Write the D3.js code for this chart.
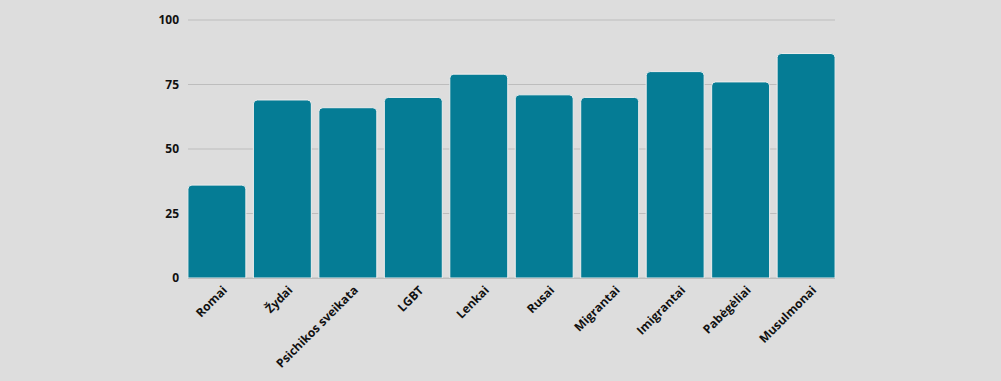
<!DOCTYPE html>
<html lang="lt">
<head>
<meta charset="UTF-8">
<script src="https://d3js.org/d3.v7.min.js"></script>
<style>
  html, body { margin: 0; padding: 0; background: #dddddd; }
  svg { display: block; font-family: "Open Sans", "Noto Sans", sans-serif; }
</style>
</head>
<body>
<svg id="chart" width="1001" height="381"></svg>
<script>
const categories = ["Romai", "Žydai", "Psichikos sveikata", "LGBT", "Lenkai", "Rusai", "Migrantai", "Imigrantai", "Pabėgėliai", "Musulmonai"];
const values = [36, 69, 66, 70, 79, 71, 70, 80, 76, 87];
const yTicks = [0, 25, 50, 75, 100];

const svg = d3.select("#chart");

const x = d3.scaleBand()
  .domain(categories)
  .range([184, 839])
  .paddingInner(0.115)
  .paddingOuter(0.06);

const y = d3.scaleLinear()
  .domain([0, 100])
  .range([278, 20]);

// gridlines
svg.append("g")
  .selectAll("line")
  .data(yTicks)
  .join("line")
  .attr("x1", 188)
  .attr("x2", 835)
  .attr("y1", d => y(d))
  .attr("y2", d => y(d))
  .attr("stroke", "#bdbdbd")
  .attr("stroke-width", 1);

// y tick labels
svg.append("g")
  .selectAll("text")
  .data(yTicks)
  .join("text")
  .attr("x", 179)
  .attr("y", d => y(d))
  .attr("dy", "0.35em")
  .attr("text-anchor", "end")
  .attr("font-size", 12)
  .attr("font-weight", "bold")
  .attr("fill", "#111")
  .text(d => d);

// bars with rounded top corners
const r = 4;
function barPath(x0, w, yTop, yBase) {
  return `M${x0},${yBase}V${yTop + r}Q${x0},${yTop} ${x0 + r},${yTop}H${x0 + w - r}Q${x0 + w},${yTop} ${x0 + w},${yTop + r}V${yBase}Z`;
}

svg.append("g")
  .selectAll("path")
  .data(categories)
  .join("path")
  .attr("d", (d, i) => barPath(x(d), x.bandwidth(), y(values[i]), y(0)))
  .attr("fill", "#057c95")
  .attr("stroke", "#eeeeee")
  .attr("stroke-width", 1);

// baseline
svg.append("line")
  .attr("x1", 188)
  .attr("x2", 835)
  .attr("y1", y(0) + 0.5)
  .attr("y2", y(0) + 0.5)
  .attr("stroke", "#bdbdbd");

// category labels
svg.append("g")
  .selectAll("text")
  .data(categories)
  .join("text")
  .attr("transform", d => `translate(${x(d) + x.bandwidth() / 2 + 8},${y(0) + 10}) rotate(-45)`)
  .attr("text-anchor", "end")
  .attr("dy", "0.35em")
  .attr("font-size", 12)
  .attr("font-weight", "bold")
  .attr("fill", "#111")
  .text(d => d);
</script>
</body>
</html>
